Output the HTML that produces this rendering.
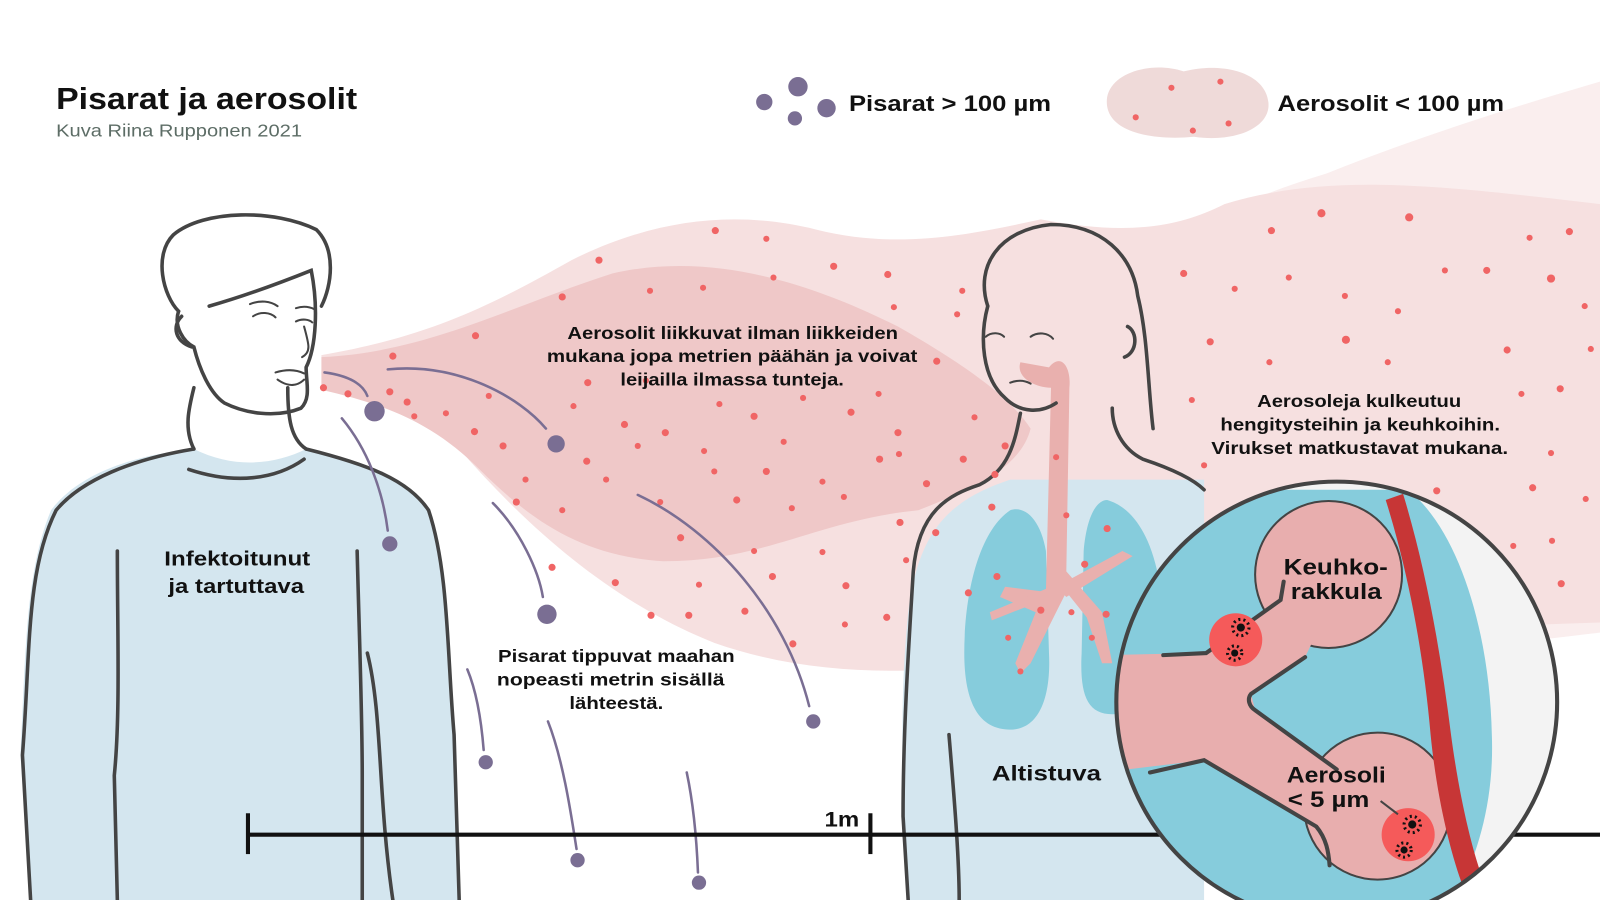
<!DOCTYPE html>
<html><head><meta charset="utf-8"><style>
html,body{margin:0;padding:0;background:#fff}
svg{display:block}
text{font-family:"Liberation Sans",sans-serif}
</style></head><body>
<svg width="1600" height="900" viewBox="0 0 1568 882" preserveAspectRatio="none" xmlns="http://www.w3.org/2000/svg">
<rect width="1568" height="882" fill="#fff"/>
<path d="M1000,330 C1100,250 1200,200 1300,170 C1400,130 1500,100 1568,80 L1568,620 C1400,640 1200,660 1000,660 Z" fill="#faeeee"/>
<path d="M315,348 C420,330 480,300 560,255 C640,215 720,205 800,225 C880,245 950,230 1020,215 C1100,230 1150,225 1200,200 C1300,170 1400,180 1568,200 L1568,610 C1400,615 1200,630 1000,650 C900,660 800,665 700,630 C600,590 520,520 450,440 C400,400 360,385 315,380 Z" fill="#f6e0e0"/>
<path d="M315,350 C420,345 500,300 600,268 C700,245 800,280 880,320 C950,360 990,390 1010,420 C1000,460 950,480 900,500 C800,510 750,550 650,550 C570,545 520,510 470,460 C420,410 370,395 315,382 Z" fill="#efc8c8"/>
<text x="55" y="107" font-size="30" font-weight="bold" fill="#111" textLength="295" lengthAdjust="spacingAndGlyphs">Pisarat ja aerosolit</text>
<text x="55" y="134" font-size="17" fill="#5d6d66" textLength="241" lengthAdjust="spacingAndGlyphs">Kuva Riina Rupponen 2021</text>
<g fill="#7a6e93"><circle cx="749" cy="100" r="8"/><circle cx="782" cy="85" r="9.5"/><circle cx="810" cy="106" r="9"/><circle cx="779" cy="116" r="7"/></g>
<text x="832" y="109" font-size="22" font-weight="bold" fill="#111" textLength="198" lengthAdjust="spacingAndGlyphs">Pisarat &gt; 100 µm</text>
<path d="M1085,95 C1090,70 1130,60 1160,70 C1200,60 1240,72 1243,100 C1246,125 1210,140 1170,134 C1130,138 1080,130 1085,95 Z" fill="#efdad9"/>
<g fill="#f06565"><circle cx="1148" cy="86" r="3"/><circle cx="1196" cy="80" r="3"/><circle cx="1113" cy="115" r="3"/><circle cx="1169" cy="128" r="3"/><circle cx="1204" cy="121" r="3"/></g>
<text x="1252" y="109" font-size="22" font-weight="bold" fill="#111" textLength="222" lengthAdjust="spacingAndGlyphs">Aerosolit &lt; 100 µm</text>
<!-- man -->
<path d="M30,882 L20,740 C25,640 25,560 50,500 C80,460 140,445 190,440 C230,460 270,455 300,440 C360,455 400,470 420,500 C440,560 440,640 445,720 L450,882 Z" fill="#d4e6ef"/>
<g fill="none" stroke="#444" stroke-width="3.5" stroke-linecap="round">
<path d="M190,440 C180,420 185,400 190,380"/>
<path d="M282,380 C282,410 285,430 300,440"/>
<path d="M185,460 C230,475 270,470 298,450"/>
<path d="M190,440 C130,450 80,470 55,500 C25,560 30,640 22,740 L30,882"/>
<path d="M300,440 C360,455 400,470 420,500 C440,560 438,640 445,720 L450,882"/>
<path d="M115,540 C115,620 118,700 112,760 L115,882"/>
<path d="M350,540 C352,620 355,700 355,760 L355,882"/>
<path d="M360,640 C375,700 370,780 385,882"/>
<path d="M175,305 C160,290 150,250 170,230 C200,205 270,205 310,225 C330,245 325,280 315,300"/>
<path d="M205,300 C240,290 280,275 305,265 C312,300 310,340 300,360 C300,375 305,390 295,400 C270,410 240,405 220,395 C205,385 195,360 190,340 C180,335 170,320 175,305"/>
<path d="M178,310 C168,320 172,335 188,340"/>
</g>
<g fill="none" stroke="#444" stroke-width="2" stroke-linecap="round">
<path d="M248,310 C255,305 265,306 270,311"/><path d="M290,315 C296,312 303,313 306,316"/>
<path d="M245,298 C255,294 265,295 272,300"/><path d="M290,302 C296,300 302,300 308,303"/>
<path d="M298,320 C303,338 305,345 296,350"/>
<path d="M270,365 C280,362 290,362 298,366"/><path d="M272,372 C283,380 292,378 298,372"/>
</g>
<text x="161" y="554" font-size="20" font-weight="bold" fill="#111" textLength="143" lengthAdjust="spacingAndGlyphs">Infektoitunut</text>
<text x="165" y="581" font-size="20" font-weight="bold" fill="#111" textLength="133" lengthAdjust="spacingAndGlyphs">ja tartuttava</text>
<!-- woman -->
<path d="M890,882 C885,800 880,700 890,600 C900,520 930,490 990,470 L1180,470 L1180,882 Z" fill="#d4e6ef"/>
<path d="M990,500 C960,520 945,580 945,640 C945,690 960,715 990,715 C1020,715 1030,680 1028,640 L1025,540 C1020,510 1005,495 990,500 Z" fill="#86ccdc"/>
<path d="M1085,490 C1120,500 1140,550 1140,620 C1140,680 1120,700 1090,700 C1065,700 1058,680 1060,640 L1062,540 C1065,505 1075,490 1085,490 Z" fill="#86ccdc"/>
<path d="M1028,360 C1040,345 1050,360 1048,380 L1045,560 L1080,600 L1090,650 L1080,650 L1065,605 L1045,580 L1035,600 L1010,650 L1000,660 L995,650 L1015,600 L980,585 L985,575 L1025,580 L1030,380 C1015,380 995,370 1000,355 Z" fill="#e9b0ae"/>
<path d="M1035,575 L1100,540 L1110,545 L1045,585 Z M1030,575 L970,600 L972,608 L1030,585 Z" fill="#e9b0ae"/>
<g fill="none" stroke="#444" stroke-width="3.5" stroke-linecap="round">
<path d="M968,300 C955,260 980,225 1030,220 C1080,220 1110,250 1115,290 C1125,330 1125,380 1130,420"/>
<path d="M968,300 C960,330 962,370 985,390 C1000,405 1020,405 1035,395"/>
<path d="M1000,405 C995,430 990,460 960,475 C930,485 900,500 895,560 C890,640 885,720 885,800 L890,882"/>
<path d="M1090,400 C1090,420 1100,440 1120,450 C1150,460 1170,470 1180,480"/>
<path d="M1105,320 C1115,325 1115,345 1102,350"/>
<path d="M930,720 C935,780 940,840 940,882"/>
</g>
<g fill="none" stroke="#444" stroke-width="2" stroke-linecap="round">
<path d="M1010,330 C1017,325 1027,326 1032,332"/><path d="M966,330 C972,325 980,326 984,330"/>
<path d="M990,375 C998,372 1005,373 1010,376"/>
</g>
<text x="972" y="765" font-size="21" font-weight="bold" fill="#111" textLength="107" lengthAdjust="spacingAndGlyphs">Altistuva</text>
<g fill="#f06565">
<circle cx="701" cy="226" r="3.5"/><circle cx="751" cy="234" r="3"/><circle cx="587" cy="255" r="3.5"/><circle cx="817" cy="261" r="3.5"/><circle cx="870" cy="269" r="3.5"/><circle cx="758" cy="272" r="3"/><circle cx="551" cy="291" r="3.5"/><circle cx="637" cy="285" r="3"/><circle cx="689" cy="282" r="3"/><circle cx="943" cy="285" r="3"/><circle cx="876" cy="301" r="3"/><circle cx="466" cy="329" r="3.5"/><circle cx="385" cy="349" r="3.5"/><circle cx="918" cy="354" r="3.5"/><circle cx="938" cy="308" r="3"/>
<circle cx="317" cy="380" r="3.5"/><circle cx="341" cy="386" r="3.5"/><circle cx="382" cy="384" r="3.5"/><circle cx="399" cy="394" r="3.5"/><circle cx="406" cy="408" r="3"/><circle cx="437" cy="405" r="3"/><circle cx="479" cy="388" r="3"/><circle cx="576" cy="375" r="3.5"/><circle cx="633" cy="373" r="3"/><circle cx="562" cy="398" r="3"/><circle cx="465" cy="423" r="3.5"/><circle cx="493" cy="437" r="3.5"/><circle cx="612" cy="416" r="3.5"/><circle cx="652" cy="424" r="3.5"/><circle cx="705" cy="396" r="3"/><circle cx="739" cy="408" r="3.5"/><circle cx="787" cy="390" r="3"/><circle cx="834" cy="404" r="3.5"/><circle cx="861" cy="386" r="3"/><circle cx="880" cy="424" r="3.5"/><circle cx="768" cy="433" r="3"/><circle cx="690" cy="442" r="3"/><circle cx="575" cy="452" r="3.5"/><circle cx="625" cy="437" r="3"/><circle cx="515" cy="470" r="3"/><circle cx="594" cy="470" r="3"/><circle cx="647" cy="492" r="3"/><circle cx="700" cy="462" r="3"/><circle cx="751" cy="462" r="3.5"/><circle cx="806" cy="472" r="3"/><circle cx="862" cy="450" r="3.5"/><circle cx="881" cy="445" r="3"/><circle cx="506" cy="492" r="3.5"/><circle cx="551" cy="500" r="3"/><circle cx="722" cy="490" r="3.5"/><circle cx="776" cy="498" r="3"/><circle cx="827" cy="487" r="3"/><circle cx="908" cy="474" r="3.5"/><circle cx="944" cy="450" r="3.5"/><circle cx="975" cy="465" r="3.5"/><circle cx="955" cy="409" r="3"/><circle cx="985" cy="437" r="3.5"/>
<circle cx="667" cy="527" r="3.5"/><circle cx="739" cy="540" r="3"/><circle cx="806" cy="541" r="3"/><circle cx="882" cy="512" r="3.5"/><circle cx="917" cy="522" r="3.5"/><circle cx="972" cy="497" r="3.5"/><circle cx="541" cy="556" r="3.5"/><circle cx="603" cy="571" r="3.5"/><circle cx="685" cy="573" r="3"/><circle cx="757" cy="565" r="3.5"/><circle cx="829" cy="574" r="3.5"/><circle cx="888" cy="549" r="3"/><circle cx="638" cy="603" r="3.5"/><circle cx="675" cy="603" r="3.5"/><circle cx="730" cy="599" r="3.5"/><circle cx="869" cy="605" r="3.5"/><circle cx="777" cy="631" r="3.5"/><circle cx="828" cy="612" r="3"/><circle cx="949" cy="581" r="3.5"/><circle cx="977" cy="565" r="3.5"/><circle cx="1020" cy="598" r="3.5"/>
<circle cx="1295" cy="209" r="4"/><circle cx="1381" cy="213" r="4"/><circle cx="1246" cy="226" r="3.5"/><circle cx="1499" cy="233" r="3"/><circle cx="1538" cy="227" r="3.5"/><circle cx="1160" cy="268" r="3.5"/><circle cx="1263" cy="272" r="3"/><circle cx="1416" cy="265" r="3"/><circle cx="1457" cy="265" r="3.5"/><circle cx="1520" cy="273" r="4"/><circle cx="1210" cy="283" r="3"/><circle cx="1318" cy="290" r="3"/><circle cx="1370" cy="305" r="3"/><circle cx="1553" cy="300" r="3"/><circle cx="1186" cy="335" r="3.5"/><circle cx="1319" cy="333" r="4"/><circle cx="1477" cy="343" r="3.5"/><circle cx="1244" cy="355" r="3"/><circle cx="1360" cy="355" r="3"/><circle cx="1559" cy="342" r="3"/><circle cx="1168" cy="392" r="3"/><circle cx="1491" cy="386" r="3"/><circle cx="1529" cy="381" r="3.5"/><circle cx="1520" cy="444" r="3"/><circle cx="1502" cy="478" r="3.5"/><circle cx="1408" cy="481" r="3.5"/><circle cx="1180" cy="456" r="3"/><circle cx="1554" cy="489" r="3"/><circle cx="1521" cy="530" r="3"/><circle cx="1483" cy="535" r="3"/><circle cx="1530" cy="572" r="3.5"/><circle cx="1085" cy="518" r="3.5"/><circle cx="1063" cy="553" r="3.5"/><circle cx="1045" cy="505" r="3"/><circle cx="1035" cy="448" r="3"/><circle cx="1084" cy="602" r="3.5"/><circle cx="1070" cy="625" r="3"/><circle cx="1050" cy="600" r="3"/><circle cx="988" cy="625" r="3"/><circle cx="1000" cy="658" r="3"/>
</g>
<g font-size="17" font-weight="bold" fill="#111">
<text x="556" y="332" textLength="324" lengthAdjust="spacingAndGlyphs">Aerosolit liikkuvat ilman liikkeiden</text>
<text x="536" y="355" textLength="363" lengthAdjust="spacingAndGlyphs">mukana jopa metrien päähän ja voivat</text>
<text x="608" y="378" textLength="219" lengthAdjust="spacingAndGlyphs">leijailla ilmassa tunteja.</text>
<text x="1232" y="399" textLength="200" lengthAdjust="spacingAndGlyphs">Aerosoleja kulkeutuu</text>
<text x="1196" y="422" textLength="274" lengthAdjust="spacingAndGlyphs">hengitysteihin ja keuhkoihin.</text>
<text x="1187" y="445" textLength="291" lengthAdjust="spacingAndGlyphs">Virukset matkustavat mukana.</text>
<text x="488" y="649" textLength="232" lengthAdjust="spacingAndGlyphs">Pisarat tippuvat maahan</text>
<text x="487" y="672" textLength="223" lengthAdjust="spacingAndGlyphs">nopeasti metrin sisällä</text>
<text x="558" y="695" textLength="92" lengthAdjust="spacingAndGlyphs">lähteestä.</text>
</g>
<g fill="none" stroke="#7a6e93" stroke-width="2.5" stroke-linecap="round">
<path d="M318,365 C340,368 355,375 360,388"/>
<path d="M380,362 C450,355 510,390 535,420"/>
<path d="M335,410 C360,440 375,480 380,520"/>
<path d="M483,493 C510,520 528,560 532,585"/>
<path d="M625,485 C700,520 770,600 793,692"/>
<path d="M458,656 C468,680 472,710 474,735"/>
<path d="M537,707 C552,745 560,800 565,832"/>
<path d="M673,757 C680,790 683,830 684,855"/>
</g>
<g fill="#7a6e93"><circle cx="367" cy="403" r="10"/><circle cx="545" cy="435" r="8.5"/><circle cx="382" cy="533" r="7.5"/><circle cx="536" cy="602" r="9.5"/><circle cx="797" cy="707" r="7"/><circle cx="476" cy="747" r="7"/><circle cx="566" cy="843" r="7"/><circle cx="685" cy="865" r="7"/></g>
<g stroke="#111" stroke-width="4"><line x1="242" y1="818" x2="1568" y2="818"/><line x1="243" y1="797" x2="243" y2="837"/><line x1="853" y1="797" x2="853" y2="837"/></g>
<text x="808" y="810" font-size="21" font-weight="bold" fill="#111" textLength="34" lengthAdjust="spacingAndGlyphs">1m</text>
<defs><clipPath id="cc"><circle cx="1310" cy="688" r="216"/></clipPath></defs>
<circle cx="1310" cy="688" r="216" fill="#f3f3f3"/>
<g clip-path="url(#cc)">
<path d="M1080,480 L1380,480 C1430,520 1460,620 1462,720 C1465,800 1440,860 1410,910 L1080,910 Z" fill="#86ccdc"/>
<circle cx="1302" cy="563" r="72" fill="#e8aeae" stroke="#444" stroke-width="2"/>
<circle cx="1350" cy="790" r="72" fill="#e8aeae" stroke="#444" stroke-width="2"/>
<path d="M1080,642 L1182,640 L1255,588 L1262,560 L1300,600 L1279,644 L1226,680 L1230,696 L1310,754 L1320,790 L1303,848 L1290,810 L1180,745 L1080,757 Z" fill="#e8aeae"/>
<path d="M1358,490 L1375,484 C1398,560 1412,640 1422,720 C1430,780 1442,830 1452,858 L1432,864 C1420,830 1408,780 1402,720 C1395,640 1380,560 1358,490 Z" fill="#c73636"/>
<g fill="none" stroke="#444" stroke-width="4" stroke-linecap="round">
<path d="M1140,642 L1182,640 L1255,588 L1258,570"/>
<path d="M1279,644 L1226,680 C1222,685 1224,692 1230,696 L1310,754"/>
<path d="M1127,757 L1180,745 L1290,810 C1300,822 1302,835 1303,848"/>
</g>
<circle cx="1211" cy="627" r="26" fill="#f55a5a"/>
<circle cx="1380" cy="818" r="26" fill="#f55a5a"/>
<g fill="#111"><circle cx="1216" cy="615" r="4"/><circle cx="1210" cy="640" r="3.5"/><circle cx="1384" cy="808" r="4"/><circle cx="1376" cy="833" r="3.5"/></g>
<g fill="none" stroke="#111" stroke-width="3" stroke-dasharray="2 3"><circle cx="1216" cy="615" r="8"/><circle cx="1210" cy="640" r="7"/><circle cx="1384" cy="808" r="8"/><circle cx="1376" cy="833" r="7"/></g>
<line x1="1370" y1="798" x2="1353" y2="785" stroke="#444" stroke-width="2"/>
</g>
<circle cx="1310" cy="688" r="216" fill="none" stroke="#444" stroke-width="4"/>
<g font-size="22" font-weight="bold" fill="#111">
<text x="1258" y="563" textLength="102" lengthAdjust="spacingAndGlyphs">Keuhko-</text>
<text x="1265" y="587" textLength="89" lengthAdjust="spacingAndGlyphs">rakkula</text>
<text x="1261" y="767" textLength="97" lengthAdjust="spacingAndGlyphs">Aerosoli</text>
<text x="1262" y="791" textLength="80" lengthAdjust="spacingAndGlyphs">&lt; 5 µm</text>
</g>
</svg>
</body></html>
